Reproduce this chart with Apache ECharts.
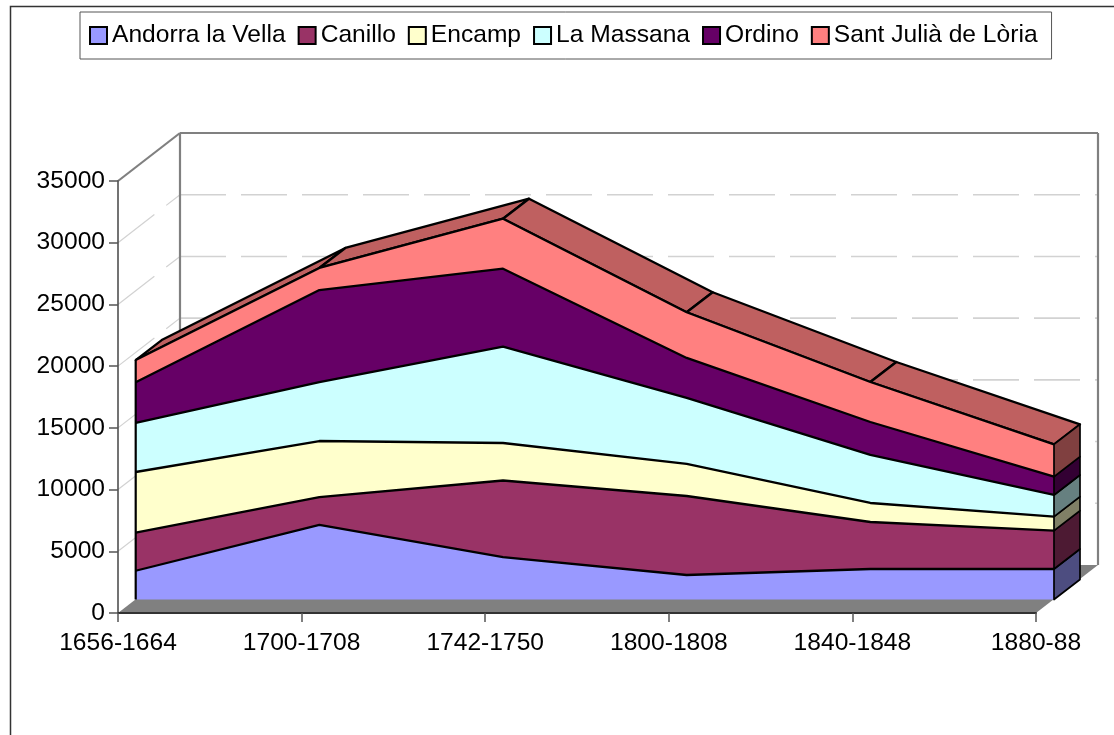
<!DOCTYPE html>
<html><head><meta charset="utf-8">
<script src="https://cdn.jsdelivr.net/npm/echarts@6/dist/echarts.min.js"></script>
<style>html,body{margin:0;padding:0;background:#fff}#c{width:1114px;height:735px}</style></head>
<body><div id="c"></div>
<script>
const categories = ['1656-1664','1700-1708','1742-1750','1800-1808','1840-1848','1880-88'];
const andorra = [2330,6040,3440,1985,2470,2470];
const canillo = [3080,2260,6200,6400,3810,3105];
const encamp  = [4920,4540,3040,2595,1540,1135];
const massana = [3970,4780,7800,5350,3890,1760];
const ordino  = [3300,7450,6320,3240,2670,1480];
const sant    = [1800,1790,4050,3700,3240,2620];
const names = ['Andorra la Vella','Canillo','Encamp','La Massana','Ordino','Sant Julià de Lòria'];
const colors = ['#9999FF','#993366','#FFFFCC','#CCFFFF','#660066','#FF8080'];
const sideColors = ['#4D4D80','#4D1A33','#808066','#668080','#330033','#804040'];
const topColor = '#BF6060';
const yTicks = [5000,10000,15000,20000,25000,30000,35000];
const yMax = 35000;
const FONT = '"Liberation Sans", Arial, sans-serif';
const FS = 24.6;

const layers = [andorra,canillo,encamp,massana,ordino,sant];
const totals = [];
layers.forEach((arr,k)=>{ totals.push(arr.map((v,i)=> v + (k? totals[k-1][i] : 0))); });

const WALL = [62,-48];   // axis plane to back wall
const DEPTH = [26,-20];  // thickness of the stacked block
const off = (p,d)=>[p[0]+d[0], p[1]+d[1]];
const poly = (pts,fill,stroke,lw)=>({type:'polygon',shape:{points:pts},style:{fill:fill,stroke:stroke||null,lineWidth:lw||0,lineJoin:'round'}});
const line = (a,b,stroke,lw,dash)=>({type:'line',shape:{x1:a[0],y1:a[1],x2:b[0],y2:b[1]},style:{stroke:stroke,lineWidth:lw,lineDash:dash||null,fill:null}});

const last = categories.length-1;

const series = [];
// floor, walls and gridlines on the axis plane
series.push({type:'custom',xAxisIndex:0,yAxisIndex:0,silent:true,clip:false,z:1,data:[0],
  renderItem:(p,api)=>{
    const o=api.coord([0,0]), e=api.coord([last,0]), t=api.coord([0,yMax]), te=api.coord([last,yMax]);
    const ch=[];
    ch.push(poly([o,e,off(e,WALL),off(o,WALL)],'#808080'));
    yTicks.forEach(v=>{
      const a=api.coord([0,v]), b=api.coord([last,v]);
      if(v<yMax){
        ch.push(line(off(a,WALL),off(b,WALL),'#D2D2D2',1.6,[46,15]));
        ch.push(line(a,off(a,WALL),'#D2D2D2',1.2,[46,15]));
      }
    });
    ch.push(line(off(t,WALL),off(te,WALL),'#808080',2.2));
    ch.push(line(off(o,WALL),off(t,WALL),'#808080',2.2));
    ch.push(line(off(e,WALL),off(te,WALL),'#808080',2.2));
    ch.push(line(t,off(t,WALL),'#808080',2.2));
    return {type:'group',children:ch};
  }});
// top faces of the block
series.push({type:'custom',xAxisIndex:1,yAxisIndex:1,silent:true,clip:false,z:2,data:categories.map((c,i)=>i),
  renderItem:(p,api)=>{
    const i=p.dataIndex; const ch=[];
    const top=totals[5];
    if(i<last){
      const a=api.coord([i,top[i]]), b=api.coord([i+1,top[i+1]]);
      ch.push(poly([a,b,off(b,DEPTH),off(a,DEPTH)],topColor,'#000',2.3));
    }
    return {type:'group',children:ch};
  }});
// stacked front faces
layers.forEach((arr,k)=>{
  series.push({type:'line',name:names[k],stack:'total',xAxisIndex:1,yAxisIndex:1,data:arr,
    symbol:'none',silent:true,z:10-k,
    lineStyle:{color:'#000',width:2.3},
    itemStyle:{color:colors[k]},
    areaStyle:{color:colors[k],opacity:1}});
});
// right end faces and the front block's vertical edges
series.push({type:'custom',xAxisIndex:1,yAxisIndex:1,silent:true,clip:false,z:12,data:[0],
  renderItem:(p,api)=>{
    const ch=[];
    layers.forEach((arr,k)=>{
      const lo=api.coord([last,k?totals[k-1][last]:0]), hi=api.coord([last,totals[k][last]]);
      ch.push(poly([lo,hi,off(hi,DEPTH),off(lo,DEPTH)],sideColors[k],'#000',1.7));
    });
    ch.push(line(api.coord([0,0]),api.coord([0,totals[5][0]]),'#000',2.2));
    return {type:'group',children:ch};
  }});

const chart = echarts.init(document.getElementById('c'),null,{renderer:'canvas'});
chart.setOption({
  animation:false,
  backgroundColor:'#fff',
  graphic:[{type:'rect',z:-1,silent:true,shape:{x:10.5,y:6.5,width:1300,height:1000},style:{fill:'#fff',stroke:'#333',lineWidth:1.5}}],
  legend:{
    left:80,top:12,padding:[11,14,11,9],
    backgroundColor:'#fff',borderColor:'#555',borderWidth:1,
    itemWidth:17,itemHeight:17,itemGap:12,
    textStyle:{fontFamily:FONT,fontSize:FS,color:'#000'},
    data:names.map((n,k)=>({name:n,icon:'rect',itemStyle:{color:colors[k],borderColor:'#000',borderWidth:2}}))
  },
  grid:[
    {left:118,top:181,width:918,height:432,containLabel:false},
    {left:135.7,top:167.5,width:918.3,height:432,containLabel:false}
  ],
  xAxis:[
    {type:'category',gridIndex:0,data:categories,boundaryGap:false,
     axisLine:{lineStyle:{color:'#333',width:2}},axisTick:{show:true,length:9,alignWithLabel:true,lineStyle:{color:'#555',width:1.5}},
     axisLabel:{fontFamily:FONT,fontSize:FS,color:'#000',margin:18,interval:0,hideOverlap:false,showMinLabel:true,showMaxLabel:true,alignMinLabel:'center',alignMaxLabel:'center'},
     splitLine:{show:false},z:5},
    {type:'category',gridIndex:1,data:categories,boundaryGap:false,show:false}
  ],
  yAxis:[
    {type:'value',gridIndex:0,min:0,max:yMax,interval:5000,
     axisLine:{show:true,lineStyle:{color:'#444',width:1.5}},axisTick:{show:true,length:9,lineStyle:{color:'#555',width:1.5}},
     axisLabel:{fontFamily:FONT,fontSize:FS,color:'#000',margin:13,formatter:v=>String(v)},
     splitLine:{show:false},z:5},
    {type:'value',gridIndex:1,min:0,max:yMax,interval:5000,show:false,splitLine:{show:false}}
  ],
  series:series
});
</script></body></html>
